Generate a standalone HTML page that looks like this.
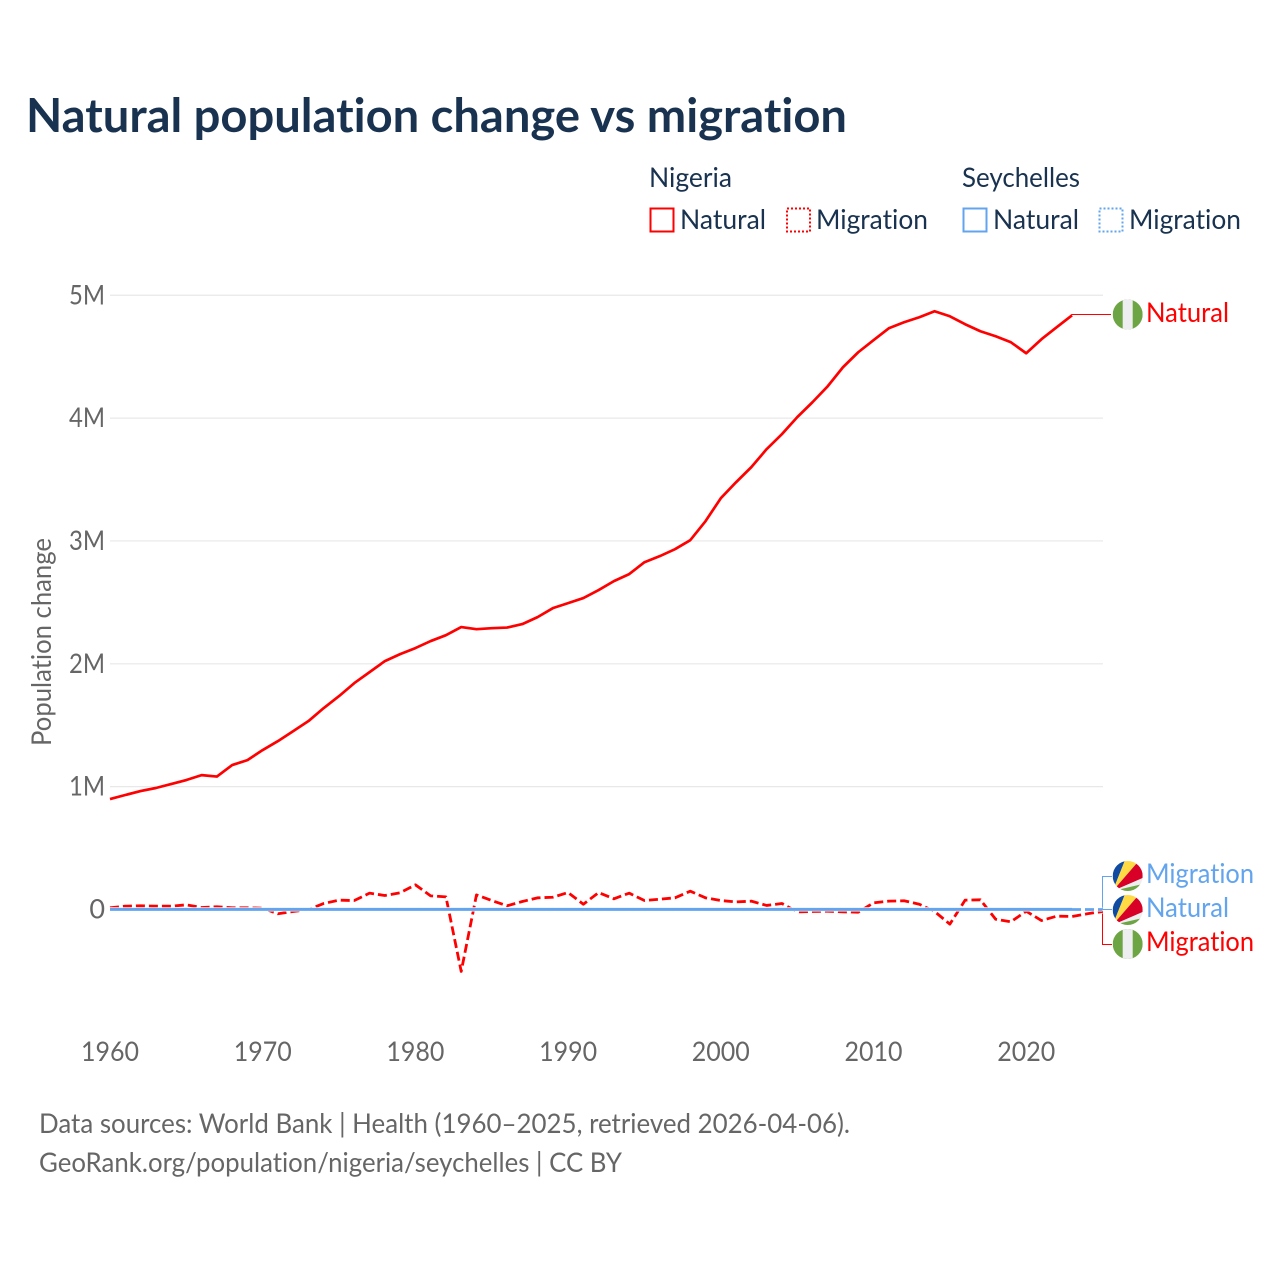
<!DOCTYPE html>
<html lang="en">
<head>
<meta charset="utf-8">
<title>Natural population change vs migration</title>
<style>
html,body{margin:0;padding:0;background:#fff}
svg{display:block}
text{font-family:"Lato","Carlito","Liberation Sans",sans-serif;font-variant-ligatures:none}
</style>
</head>
<body>
<svg id="chart" xmlns="http://www.w3.org/2000/svg" width="1280" height="1280" viewBox="0 0 1280 1280">
  <defs>
    <clipPath id="flag-clip"><circle cx="0" cy="0" r="15"/></clipPath>
    <g id="flag-ng" clip-path="url(#flag-clip)">
      <rect x="-15" y="-15" width="30" height="30" fill="#6da544"/>
      <rect x="-5" y="-15" width="10" height="30" fill="#eeeef0"/>
    </g>
    <g id="flag-sc" clip-path="url(#flag-clip)">
      <rect x="-15" y="-15" width="30" height="30" fill="#eeeef0"/>
      <polygon points="-15,15 -15,-15 -3,-15" fill="#0f4ba0"/>
      <polygon points="-15,15 -3,-15 11,-15" fill="#ffda44"/>
      <polygon points="-15,15 11,-15 15,-15 15,2" fill="#d80027"/>
      <polygon points="-15,15 15,2 15,8" fill="#eeeef0"/>
      <polygon points="-15,15 15,8 15,15" fill="#6da544"/>
    </g>
  </defs>

  <text x="26" y="132" font-size="47" font-weight="700" fill="#18324f" textLength="821" lengthAdjust="spacingAndGlyphs">Natural population change vs migration</text>

  <g font-size="27" fill="#18324f">
    <text x="649" y="187" textLength="83" lengthAdjust="spacingAndGlyphs">Nigeria</text>
    <text x="962" y="187" textLength="118" lengthAdjust="spacingAndGlyphs">Seychelles</text>
    <rect x="650.5" y="208.5" width="23" height="23" fill="none" stroke="#ff0000" stroke-width="2"/>
    <text x="680" y="229" textLength="86" lengthAdjust="spacingAndGlyphs">Natural</text>
    <rect x="787" y="208.5" width="23" height="23" fill="none" stroke="#ff0000" stroke-width="2" stroke-dasharray="2 2"/>
    <text x="816" y="229" textLength="112" lengthAdjust="spacingAndGlyphs">Migration</text>
    <rect x="963.5" y="208.5" width="23" height="23" fill="none" stroke="#62a5ee" stroke-width="2"/>
    <text x="993" y="229" textLength="86" lengthAdjust="spacingAndGlyphs">Natural</text>
    <rect x="1099.5" y="208.5" width="23" height="23" fill="none" stroke="#62a5ee" stroke-width="2" stroke-dasharray="2 2"/>
    <text x="1129" y="229" textLength="112" lengthAdjust="spacingAndGlyphs">Migration</text>
  </g>

  <g id="grid"></g>
  <g id="y-ticks"></g>
  <g id="x-ticks"></g>
  <text transform="translate(51 746) rotate(-90)" font-size="27" fill="#666666" textLength="208" lengthAdjust="spacingAndGlyphs">Population change</text>

  <g id="connectors" fill="none" stroke-width="1">
    <path d="M1071 314.5H1111" stroke="#ff0000"/>
    <path d="M1103 909.5H1102.5V876.5H1112" stroke="#62a5ee"/>
    <path d="M1071 909.5H1112" stroke="#62a5ee"/>
    <path d="M1102.5 911V944.5H1112" stroke="#ff0000"/>
  </g>

  <g id="series" fill="none" stroke-linejoin="round"></g>

  <g font-size="27">
    <use href="#flag-ng" transform="translate(1127.7 314.5)"/>
    <text x="1146" y="322" fill="#ff0000" textLength="83" lengthAdjust="spacingAndGlyphs">Natural</text>
    <use href="#flag-sc" transform="translate(1127.7 876)"/>
    <text x="1146" y="883" fill="#62a5ee" textLength="108" lengthAdjust="spacingAndGlyphs">Migration</text>
    <use href="#flag-sc" transform="translate(1127.7 910)"/>
    <text x="1146" y="917" fill="#62a5ee" textLength="83" lengthAdjust="spacingAndGlyphs">Natural</text>
    <use href="#flag-ng" transform="translate(1127.7 944)"/>
    <text x="1146" y="951" fill="#ff0000" textLength="108" lengthAdjust="spacingAndGlyphs">Migration</text>
  </g>

  <g font-size="27" fill="#666666">
    <text x="39" y="1133" textLength="811" lengthAdjust="spacingAndGlyphs">Data sources: World Bank | Health (1960–2025, retrieved 2026-04-06).</text>
    <text x="39" y="1172" textLength="583" lengthAdjust="spacingAndGlyphs">GeoRank.org/population/nigeria/seychelles | CC BY</text>
  </g>
</svg>

<script>
var yTickValues = [0, 1, 2, 3, 4, 5];
var yTickLabels = ["0", "1M", "2M", "3M", "4M", "5M"];
var xTickValues = [1960, 1970, 1980, 1990, 2000, 2010, 2020];
var xTickLabels = ["1960", "1970", "1980", "1990", "2000", "2010", "2020"];
var startYear = 1960;

var nigeriaNatural = [0.899,0.932,0.964,0.989,1.021,1.054,1.094,1.082,1.176,1.216,
  1.298,1.371,1.452,1.534,1.640,1.737,1.843,1.932,2.022,2.079,
  2.128,2.185,2.233,2.299,2.282,2.290,2.295,2.323,2.380,2.453,
  2.494,2.535,2.600,2.673,2.730,2.827,2.876,2.933,3.006,3.161,
  3.348,3.478,3.601,3.747,3.869,4.007,4.129,4.259,4.414,4.536,
  4.634,4.731,4.780,4.821,4.870,4.829,4.764,4.707,4.666,4.617,
  4.528,4.642,4.740,4.837];
var nigeriaMigration = [0.014,0.027,0.030,0.027,0.027,0.038,0.016,0.022,0.014,0.014,
  0.011,-0.035,-0.016,0,0.049,0.076,0.073,0.133,0.114,0.136,
  0.201,0.111,0.103,-0.504,0.119,0.073,0.030,0.065,0.095,0.100,
  0.138,0.043,0.138,0.087,0.133,0.073,0.084,0.095,0.149,0.095,
  0.073,0.062,0.068,0.033,0.049,-0.019,-0.016,-0.014,-0.019,-0.022,
  0.054,0.068,0.071,0.043,-0.016,-0.119,0.076,0.079,-0.079,-0.100,
  -0.014,-0.090,-0.054,-0.057,-0.035,-0.016];
var seychellesNatural = [0.001,0.001,0.001,0.001,0.001,0.001,0.001,0.001,0.001,0.001,
  0.001,0.001,0.001,0.001,0.001,0.001,0.001,0.001,0.001,0.001,
  0.001,0.001,0.001,0.001,0.001,0.001,0.001,0.001,0.001,0.001,
  0.001,0.001,0.001,0.001,0.001,0.001,0.001,0.001,0.001,0.001,
  0.001,0.001,0.001,0.001,0.001,0.001,0.001,0.001,0.001,0.001,
  0.001,0.001,0.001,0.001,0.001,0.001,0.001,0.001,0.001,0.001,
  0.001,0.001,0.001,0.001];
var seychellesMigration = [0,0,0,0,0,0,0,0,0,0,
  0,0,0,0,0,0,0,0,0,0,
  0,0,0,0,0,0,0,0,0,0,
  0,0,0,0,0,0,0,0,0,0,
  0,0,0,0,0,0,0,0,0,0,
  0,0,0,0,0,0,0,0,0,0,
  0,0,0,0,0,0];

var SVGNS = "http://www.w3.org/2000/svg";
function xScale(year) { return 110 + (year - 1960) * 15.27; }
function yScale(value) { return 909.5 - value * 122.85; }

function make(tag, parent, attrs) {
  var el = document.createElementNS(SVGNS, tag);
  for (var k in attrs) { el.setAttribute(k, attrs[k]); }
  parent.appendChild(el);
  return el;
}

var gridGroup = document.getElementById("grid");
var yGroup = document.getElementById("y-ticks");
var xGroup = document.getElementById("x-ticks");
var seriesGroup = document.getElementById("series");

yTickValues.forEach(function (v, i) {
  var y = yScale(v);
  if (v !== 0) {
    var line = make("line", gridGroup, { x1: 110, x2: 1103, y1: y, y2: y, stroke: "#e8e8e8", "stroke-width": 1.2 });
    
    
  }
  var label = make("text", yGroup, { x: 105, y: y + 9, "text-anchor": "end", "font-size": 27, fill: "#666666" });
  
  
  if (v !== 0) {
    label.setAttribute("textLength", 36);
    label.setAttribute("lengthAdjust", "spacingAndGlyphs");
  }
  label.textContent = yTickLabels[i];
});

xTickValues.forEach(function (v, i) {
  var label = make("text", xGroup, { x: xScale(v), y: 1061, "text-anchor": "middle", "font-size": 27, fill: "#666666", textLength: 58, lengthAdjust: "spacingAndGlyphs" });
  
  
  label.textContent = xTickLabels[i];
});

function linePath(values) {
  return values.map(function (v, i) {
    return (i ? "L" : "M") + xScale(startYear + i).toFixed(2) + " " + yScale(v).toFixed(2);
  }).join("");
}

function drawSeries(values, color, width, dash) {
  var d = linePath(values);
  var halo = make("path", seriesGroup, { d: d, stroke: "#ffffff", "stroke-width": width + 1.2 });
  
  
  var attrs = { d: d, stroke: color, "stroke-width": width };
  if (dash) { attrs["stroke-dasharray"] = dash; }
  var path = make("path", seriesGroup, attrs);
  
  
}

drawSeries(nigeriaMigration, "#ff0000", 2.8, "9 4");
drawSeries(nigeriaNatural, "#ff0000", 2.7, null);
drawSeries(seychellesMigration, "#62a5ee", 2.8, "9 4");
drawSeries(seychellesNatural, "#62a5ee", 3, null);
</script>
</body>
</html>
